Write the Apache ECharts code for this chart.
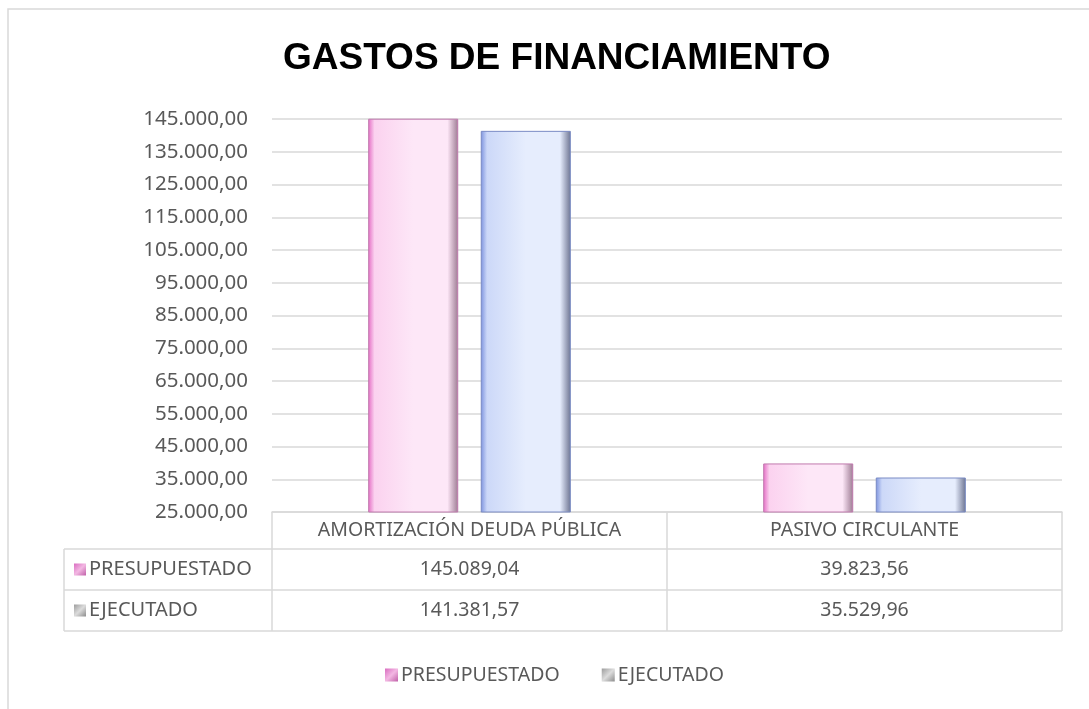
<!DOCTYPE html>
<html>
<head>
<meta charset="utf-8">
<script src="https://cdn.jsdelivr.net/npm/echarts@6/dist/echarts.min.js"></script>
<style>
  html, body { margin: 0; padding: 0; background: #fff; }
  #chart { width: 1089px; height: 709px; }
</style>
</head>
<body>
<div id="chart"></div>
<script>
// datos
var categorias = ["AMORTIZACIÓN DEUDA PÚBLICA", "PASIVO CIRCULANTE"];
var presupuestado = [145089.04, 39823.56];
var ejecutado = [141381.57, 35529.96];
var series_nombres = ["PRESUPUESTADO", "EJECUTADO"];
var y_min = 25000, y_max = 145000, y_paso = 10000;

// formato 145.000,00
function fmt(v) {
    var p = v.toFixed(2).split(".");
    return p[0].replace(/\B(?=(\d{3})+(?!\d))/g, ".") + "," + p[1];
}

var FONT = "Noto Sans";
var GRIS = "#595959";
var LINEA = "#d9d9d9";
var GL = 272, GR = 1062, AY = 512;
var filas = [AY, 549, 590, 631];

function grad(c0, c1, c2, c3) {
    return new echarts.graphic.LinearGradient(0, 0, 1, 0, [
        {offset: 0, color: c0}, {offset: 0.07, color: c1},
        {offset: 0.5, color: c2}, {offset: 0.88, color: c2},
        {offset: 1, color: c3}
    ]);
}
var rosa = grad("#e46cc4", "#fbd2ef", "#fde7f7", "#9c7a92");
var azul = grad("#7c92de", "#ccd8f8", "#e6edfd", "#6c7390");
var rosaIcon = new echarts.graphic.LinearGradient(0, 0, 1, 1, [
    {offset: 0, color: "#d96cc0"}, {offset: 0.5, color: "#f3b8e3"}, {offset: 1, color: "#c060a8"}]);
var grisIcon = new echarts.graphic.LinearGradient(0, 0, 1, 1, [
    {offset: 0, color: "#9c9c9c"}, {offset: 0.5, color: "#dcdcdc"}, {offset: 1, color: "#8c8c8c"}]);

var chart = echarts.init(document.getElementById("chart"));

// tabla de datos (lineas y rótulos de la columna izquierda)
var tabla = [];
tabla.push({type: "rect", shape: {x: 8, y: 9, width: 1100, height: 720},
    style: {fill: "none", stroke: LINEA, lineWidth: 1.5}, silent: true});
for (var i = 1; i < filas.length; i++) {
    tabla.push({type: "line", shape: {x1: 64, y1: filas[i], x2: GR, y2: filas[i]},
        style: {stroke: LINEA, lineWidth: 1.5}, silent: true});
}
tabla.push({type: "line", shape: {x1: 64, y1: filas[1], x2: 64, y2: filas[3]},
    style: {stroke: LINEA, lineWidth: 1.5}, silent: true});
[rosaIcon, grisIcon].forEach(function(ic, k) {
    var cy = (filas[k + 1] + filas[k + 2]) / 2;
    tabla.push({type: "rect", shape: {x: 74, y: cy - 6, width: 12, height: 12},
        style: {fill: ic}, silent: true});
    tabla.push({type: "text", x: 89, y: cy,
        style: {text: series_nombres[k], font: "20px '" + FONT + "'", fill: GRIS, verticalAlign: "middle"}, silent: true});
});

function ejeTabla(off, datos) {
    return {
        type: "category", data: categorias, position: "bottom", offset: off, gridIndex: 0,
        axisLine: {show: false}, axisTick: {show: false},
        axisLabel: {margin: 10, fontFamily: FONT, fontSize: 19.5, color: GRIS,
            formatter: function(v, i) { return fmt(datos[i]); }}
    };
}

chart.setOption({
    animation: false,
    title: {
        text: "GASTOS DE FINANCIAMIENTO", left: 278, top: 35,
        textStyle: {fontFamily: "Liberation Sans", fontWeight: "bold", fontSize: 37, color: "#000"}
    },
    legend: {
        left: 380, top: 660, icon: "rect", itemWidth: 13, itemHeight: 13, itemGap: 42,
        textStyle: {fontFamily: FONT, fontSize: 19.5, color: GRIS, padding: [0, 0, 0, -2]},
        data: [
            {name: series_nombres[0], itemStyle: {color: rosaIcon, borderWidth: 0}},
            {name: series_nombres[1], itemStyle: {color: grisIcon, borderWidth: 0}}
        ]
    },
    grid: {left: GL, right: 1089 - GR, top: 119, bottom: 709 - AY},
    xAxis: [
        {
            type: "category", data: categorias,
            axisLine: {lineStyle: {color: LINEA, width: 1.5}},
            axisTick: {show: true, length: filas[3] - AY, lineStyle: {color: LINEA, width: 1.5}},
            axisLabel: {margin: 8, fontFamily: FONT, fontSize: 19.5, color: GRIS}
        },
        ejeTabla(filas[1] - AY, presupuestado),
        ejeTabla(filas[2] - AY, ejecutado)
    ],
    yAxis: {
        type: "value", min: y_min, max: y_max, interval: y_paso,
        axisLine: {show: false}, axisTick: {show: false},
        axisLabel: {margin: 24, fontFamily: FONT, fontSize: 20.5, color: GRIS, formatter: fmt},
        splitLine: {lineStyle: {color: LINEA, width: 1.5}}
    },
    series: [
        {
            name: series_nombres[0], type: "bar", data: presupuestado,
            barWidth: "22.8%", barGap: "25%",
            itemStyle: {color: rosa, borderColor: "#c07aae", borderWidth: 1}
        },
        {
            name: series_nombres[1], type: "bar", data: ejecutado,
            barWidth: "22.8%", barGap: "25%",
            itemStyle: {color: azul, borderColor: "#7a8bc4", borderWidth: 1}
        }
    ],
    graphic: tabla
});
</script>
</body>
</html>
